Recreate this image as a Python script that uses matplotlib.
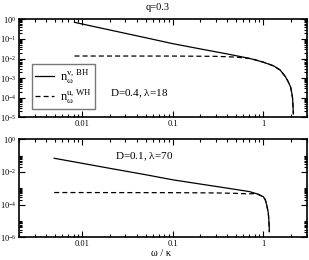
import numpy as np
import matplotlib
matplotlib.use("Agg")
import matplotlib.pyplot as plt
from matplotlib.ticker import FixedLocator, NullFormatter

plt.rcParams["font.family"] = ["Liberation Serif", "DejaVu Serif"]
plt.rcParams["mathtext.fontset"] = "custom"
plt.rcParams["mathtext.rm"] = "Liberation Serif"
plt.rcParams["mathtext.it"] = "Liberation Serif:italic"

# ---- data (omega/kappa, occupation number) ----
# top panel: D=0.4, lambda=18
w_bh_top = [0.0082, 0.02, 0.05, 0.1, 0.2, 0.4, 0.7, 1.0, 1.3, 1.53, 1.75,
            1.88, 2.0, 2.05, 2.10, 2.12, 2.135, 2.145]
n_bh_top = [0.70, 0.287, 0.115, 0.057, 0.031, 0.017, 0.0102, 0.0065, 0.0042,
            0.0026, 0.0012, 6.6e-4, 3.5e-4, 2.0e-4, 1.0e-4, 5e-5, 2.5e-5, 1.5e-5]

w_wh_top = [0.0082, 0.1, 0.3, 0.5, 0.7, 0.8, 1.0, 1.3, 1.53, 1.75,
            1.88, 2.0, 2.05, 2.10, 2.12, 2.135, 2.145]
n_wh_top = [0.0134, 0.0133, 0.0129, 0.0118, 0.0100, 0.0088, 0.0065, 0.0042,
            0.0026, 0.0012, 6.6e-4, 3.5e-4, 2.0e-4, 1.0e-4, 5e-5, 2.5e-5, 1.5e-5]

# bottom panel: D=0.1, lambda=70
w_bh_bot = [0.0049, 0.01, 0.02, 0.05, 0.1, 0.2, 0.4, 0.7, 0.85, 1.0, 1.05,
            1.09, 1.12, 1.135, 1.15, 1.16, 1.164]
n_bh_bot = [0.0687, 0.0337, 0.0168, 0.0068, 0.0033, 0.00183, 0.00102, 6.3e-4,
            4.6e-4, 3.05e-4, 2.0e-4, 9.6e-5, 4.5e-5, 2.9e-5, 1.2e-5, 5e-6, 2.2e-6]

w_wh_bot = [0.0049, 0.1, 0.3, 0.5, 0.65, 0.8, 0.85, 1.0, 1.05,
            1.09, 1.12, 1.135, 1.15, 1.16, 1.164]
n_wh_bot = [5.5e-4, 5.4e-4, 5.2e-4, 4.9e-4, 4.6e-4, 4.7e-4, 4.6e-4, 3.05e-4,
            2.0e-4, 9.6e-5, 4.5e-5, 2.9e-5, 1.2e-5, 5e-6, 2.2e-6]

x_ticks = [0.01, 0.1, 1]
x_ticklabels = ["0.01", "0.1", "1"]

fig = plt.figure(figsize=(3.09, 2.60), dpi=100)
ax1 = fig.add_axes([0.0615, 0.5488, 0.9305, 0.377])
ax2 = fig.add_axes([0.0615, 0.0873, 0.9305, 0.377])


def style_axis(ax, ymin, major_exps, minor_exps):
    ax.set_xscale("log")
    ax.set_yscale("log")
    ax.set_xlim(0.002, 3)
    ax.set_ylim(ymin, 1)
    ax.xaxis.set_major_locator(FixedLocator(x_ticks))
    ax.set_xticklabels(x_ticklabels)
    xminor = [k * 10.0 ** e for e in (-3, -2, -1, 0) for k in range(2, 10)]
    ax.xaxis.set_minor_locator(FixedLocator(xminor))
    ax.xaxis.set_minor_formatter(NullFormatter())
    ax.yaxis.set_major_locator(FixedLocator([10.0 ** e for e in major_exps]))
    ax.set_yticklabels([r"$\mathregular{10^{%d}}$" % e for e in major_exps])
    ax.yaxis.set_minor_locator(FixedLocator(minor_exps))
    ax.yaxis.set_minor_formatter(NullFormatter())
    ax.tick_params(which="both", direction="in", top=True, right=True,
                   labelsize=6, width=0.8, pad=2)
    ax.tick_params(which="major", length=4)
    ax.tick_params(which="minor", length=2.2)
    for s in ax.spines.values():
        s.set_linewidth(1.2)


top_minor = [k * 10.0 ** e for e in range(-5, 0) for k in range(2, 10)]
style_axis(ax1, 1e-5, [0, -1, -2, -3, -4, -5], top_minor)
bot_minor = [k * 10.0 ** e for e in (-6, -4, -2) for k in range(2, 11)]
style_axis(ax2, 1e-6, [0, -2, -4, -6], bot_minor)

l1, = ax1.plot(w_bh_top, n_bh_top, color="black", lw=0.9)
l2, = ax1.plot(w_wh_top, n_wh_top, color="black", lw=0.9, ls=(0, (4, 2.5)))
ax2.plot(w_bh_bot, n_bh_bot, color="black", lw=0.9)
ax2.plot(w_wh_bot, n_wh_bot, color="black", lw=0.9, ls=(0, (4, 2.5)))

leg = ax1.legend([l1, l2],
                 [r"$\mathregular{n_{\omega}^{v,\,BH}}$",
                  r"$\mathregular{n_{\omega}^{u,\,WH}}$"],
                 loc="lower left", bbox_to_anchor=(0.045, 0.085),
                 borderaxespad=0, fontsize=9, frameon=True, fancybox=False,
                 handlelength=1.5, handletextpad=0.5, borderpad=0.25,
                 labelspacing=0.05)
leg.get_frame().set_edgecolor("#555555")
leg.get_frame().set_linewidth(1.0)

ax1.text(0.3165, 0.235, r"D=0.4, $\mathregular{\lambda}$=18", transform=ax1.transAxes,
         fontsize=8, va="center", ha="left")
ax2.text(0.334, 0.822, r"D=0.1, $\mathregular{\lambda}$=70", transform=ax2.transAxes,
         fontsize=8, va="center", ha="left")
fig.text(158 / 309, 1 - 8 / 260, "q=0.3", fontsize=7.5, ha="center", va="center")
fig.text(161 / 309, 1 - 253 / 260, "\u03c9 / \u03ba", fontsize=7.5,
         ha="center", va="center")

fig.savefig("out.png", dpi=100)
